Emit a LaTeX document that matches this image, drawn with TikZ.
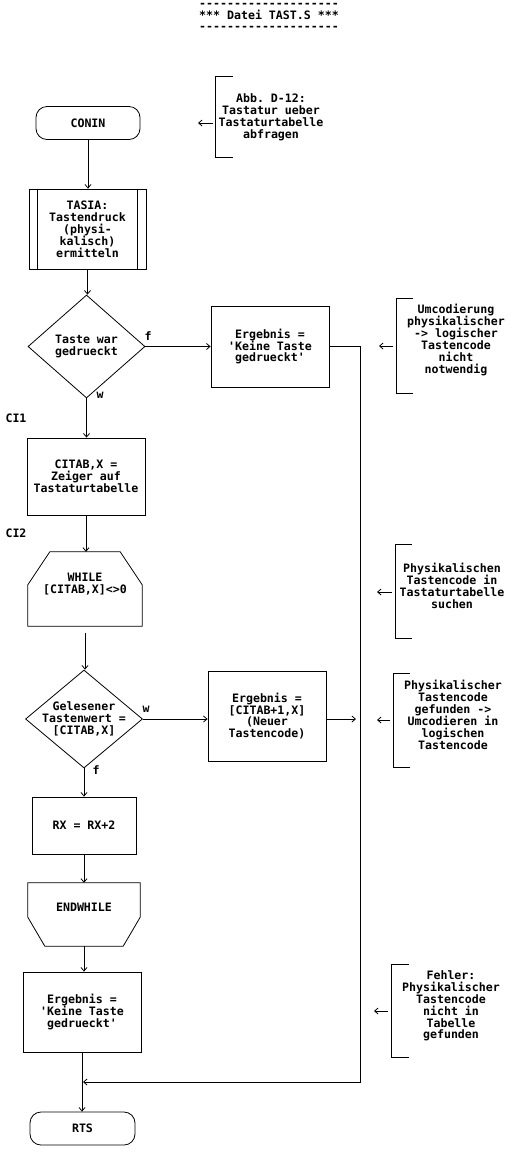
\documentclass[tikz,border=0pt]{standalone}
\usepackage{fontspec}
\setmonofont{DejaVu Sans Mono}
\usetikzlibrary{shapes.geometric,arrows.meta}
\begin{document}
\begin{tikzpicture}[x=1pt,y=-1pt,
  lbl/.style={font=\ttfamily\bfseries\fontsize{11.6}{11.9}\selectfont, align=center, inner sep=0pt},
  shp/.style={draw, line width=0.8pt, inner sep=0pt},
  boxn/.style={shp, rectangle},
  term/.style={shp, rectangle, rounded corners=11pt},
  dia/.style={shp, diamond},
  ghost/.style={rectangle, inner sep=0pt},
  flow/.style={draw, line width=0.8pt, -{Straight Barb[length=3.5pt,width=6pt]}},
  line/.style={draw, line width=0.8pt},
  brk/.style={draw, line width=0.8pt}]
\useasboundingbox (0,0) rectangle (513,1152);

% title
\node[lbl] (title) at (269,17) {--------------------\\*** Datei TAST.S ***\\--------------------};

% main column
\node[term, minimum width=104pt, minimum height=33pt, lbl, draw] (conin) at (88,123) {CONIN};
\node[boxn, minimum width=117pt, minimum height=80pt, lbl, draw] (tasia) at (87.5,229) {TASIA:\\Tastendruck\\(physi-\\kalisch)\\ermitteln};
\draw[line width=0.8pt] ([xshift=9pt]tasia.north west) -- ([xshift=9pt]tasia.south west);
\draw[line width=0.8pt] ([xshift=-9pt]tasia.north east) -- ([xshift=-9pt]tasia.south east);

\node[dia, minimum width=117pt, minimum height=103pt] (d1) at (86.5,346.5) {};
\node[lbl] (d1t) at (d1.center) {Taste war\\gedrueckt};
\node[lbl] (d1f) at (148,336) {f};
\node[lbl] (d1w) at (100,395) {w};

\node[boxn, minimum width=118pt, minimum height=81pt, lbl, draw] (e1) at (270,346.5) {Ergebnis =\\'Keine Taste\\gedrueckt'};

\node[lbl] (ci1) at (16,418) {CI1};
\node[boxn, minimum width=118pt, minimum height=77pt, lbl, draw] (citab) at (86,476.5) {CITAB,X =\\Zeiger auf\\Tastaturtabelle};
\node[lbl] (ci2) at (16,533) {CI2};

\node[ghost, minimum width=114pt, minimum height=74pt] (wh) at (85,589) {};
\draw[line width=0.8pt] (wh.south west) -- ([yshift=-33pt]wh.north west) -- ([xshift=22pt]wh.north west)
  -- ([xshift=-22pt]wh.north east) -- ([yshift=-33pt]wh.north east) -- (wh.south east) -- cycle;
\node[lbl] (wht) at (85,584) {WHILE\\{}[CITAB,X]<>0};

\node[dia, minimum width=117pt, minimum height=98pt] (d2) at (84,719) {};
\node[lbl] (d2t) at (d2.center) {Gelesener\\Tastenwert =\\{}[CITAB,X]};
\node[lbl] (d2w) at (146,709) {w};
\node[lbl] (d2f) at (96,770) {f};

\node[boxn, minimum width=118pt, minimum height=90pt, lbl, draw] (e2) at (267,716) {Ergebnis =\\{}[CITAB+1,X]\\(Neuer\\Tastencode)};

\node[boxn, minimum width=104pt, minimum height=57pt, lbl, draw] (rx) at (84,825.5) {RX = RX+2};

\node[ghost, minimum width=112pt, minimum height=63pt] (ew) at (84,914.5) {};
\draw[line width=0.8pt] (ew.north west) -- ([yshift=29pt]ew.south west) -- ([xshift=17pt]ew.south west)
  -- ([xshift=-17pt]ew.south east) -- ([yshift=29pt]ew.south east) -- (ew.north east) -- cycle;
\node[lbl] (ewt) at (84,907) {ENDWHILE};

\node[boxn, minimum width=118pt, minimum height=80pt, lbl, draw] (e3) at (82,1012) {Ergebnis =\\'Keine Taste\\gedrueckt'};

\node[term, minimum width=105pt, minimum height=33pt, lbl, draw] (rts) at (82.5,1128.5) {RTS};

% flow connectors
\draw[flow] (conin.south) -- (conin.south |- tasia.north);
\draw[flow] (tasia.south) -- (tasia.south |- d1.north);
\draw[flow] (d1.east) -- (e1.west);
\draw[flow] (d1.south) -- (d1.south |- citab.north);
\draw[flow] (citab.south) -- (citab.south |- wh.north);
\draw[flow] ([yshift=-7pt]wh.south) -- (wh.south |- d2.north);
\draw[flow] (d2.east) -- (d2.east -| e2.west);
\draw[flow] (d2.south) -- (d2.south |- rx.north);
\draw[flow] (rx.south) -- (rx.south |- ew.north);
\draw[flow] (ew.south) -- (ew.south |- e3.north);
\draw[flow] (e3.south) -- (e3.south |- rts.north);

\coordinate (rl) at (360,346.5);
\coordinate (join) at (83,1082);
\draw[flow] (e1.east) -- (rl) |- (join);
\draw[flow] (e2.east |- d2.east) -- (356,719);

% comments
\node[lbl] (c0) at (271,117) {Abb. D-12:\\Tastatur ueber\\Tastaturtabelle\\abfragen};
\draw[brk] (233,76) -- (215,76) -- (215,157) -- (233,157);
\coordinate (c0a) at (213,123); \coordinate (c0b) at (198,123);
\draw[flow] (c0a) -- (c0b);

\node[lbl] (c1) at (456,340) {Umcodierung\\physikalischer\\-> logischer\\Tastencode\\nicht\\notwendig};
\draw[brk] (413,298) -- (396,298) -- (396,393) -- (413,393);
\coordinate (c1a) at (393,346); \coordinate (c1b) at (379,346);
\draw[flow] (c1a) -- (c1b);

\node[lbl] (c2) at (452,586) {Physikalischen\\Tastencode in\\Tastaturtabelle\\suchen};
\draw[brk] (412,544) -- (395,544) -- (395,638) -- (412,638);
\coordinate (c2a) at (392,592); \coordinate (c2b) at (377,592);
\draw[flow] (c2a) -- (c2b);

\node[lbl] (c3) at (453,715) {Physikalischer\\Tastencode\\gefunden ->\\Umcodieren in\\logischen\\Tastencode};
\draw[brk] (410,673) -- (393,673) -- (393,767) -- (410,767);
\coordinate (c3a) at (390,720); \coordinate (c3b) at (377,720);
\draw[flow] (c3a) -- (c3b);

\node[lbl] (c4) at (451,1006) {Fehler:\\Physikalischer\\Tastencode\\nicht in\\Tabelle\\gefunden};
\draw[brk] (409,964) -- (391,964) -- (391,1057) -- (409,1057);
\coordinate (c4a) at (388,1011); \coordinate (c4b) at (374,1011);
\draw[flow] (c4a) -- (c4b);
\end{tikzpicture}
\end{document}
